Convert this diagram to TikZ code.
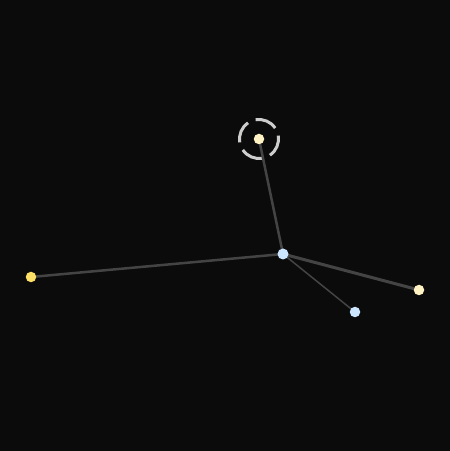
\documentclass[tikz,border=0pt]{standalone}
\begin{document}
\begin{tikzpicture}[x=1pt,y=1pt,
  dot/.style={circle,inner sep=0pt,minimum size=10.5pt,draw=none},
  edge/.style={draw={rgb,255:red,68;green,68;blue,68},line cap=round},
  ring/.style={draw={rgb,255:red,205;green,205;blue,205},line width=3pt}]
\definecolor{bg}{RGB}{11,11,11}
\definecolor{cream}{RGB}{255,243,196}
\definecolor{sky}{RGB}{205,230,255}
\definecolor{gold}{RGB}{255,224,102}
\fill[bg] (0,0) rectangle (450,451);
\useasboundingbox (0,0) rectangle (450,451);
\coordinate (tc) at (259,312);
\draw[ring] (tc) ++(34:19.5) arc (34:100:19.5);
\draw[ring] (tc) ++(124:19.5) arc (124:190:19.5);
\draw[ring] (tc) ++(214:19.5) arc (214:280:19.5);
\draw[ring] (tc) ++(304:19.5) arc (304:370:19.5);
\coordinate (tp) at (259,312);
\coordinate (hp) at (283,197);
\coordinate (lp) at (31,174);
\coordinate (rp) at (419,161);
\coordinate (bp) at (355,139);
\draw[edge,line width=2.5pt] (tp) -- (hp);
\draw[edge,line width=2.5pt] (hp) -- (lp);
\draw[edge,line width=3pt] (hp) -- (rp);
\draw[edge,line width=1.5pt] (hp) -- (bp);
\node[dot,fill=cream] (t) at (tp) {};
\node[dot,fill=sky,minimum size=11pt] (h) at (hp) {};
\node[dot,fill=gold] (l) at (lp) {};
\node[dot,fill=cream] (r) at (rp) {};
\node[dot,fill=sky] (b) at (bp) {};
\end{tikzpicture}
\end{document}
